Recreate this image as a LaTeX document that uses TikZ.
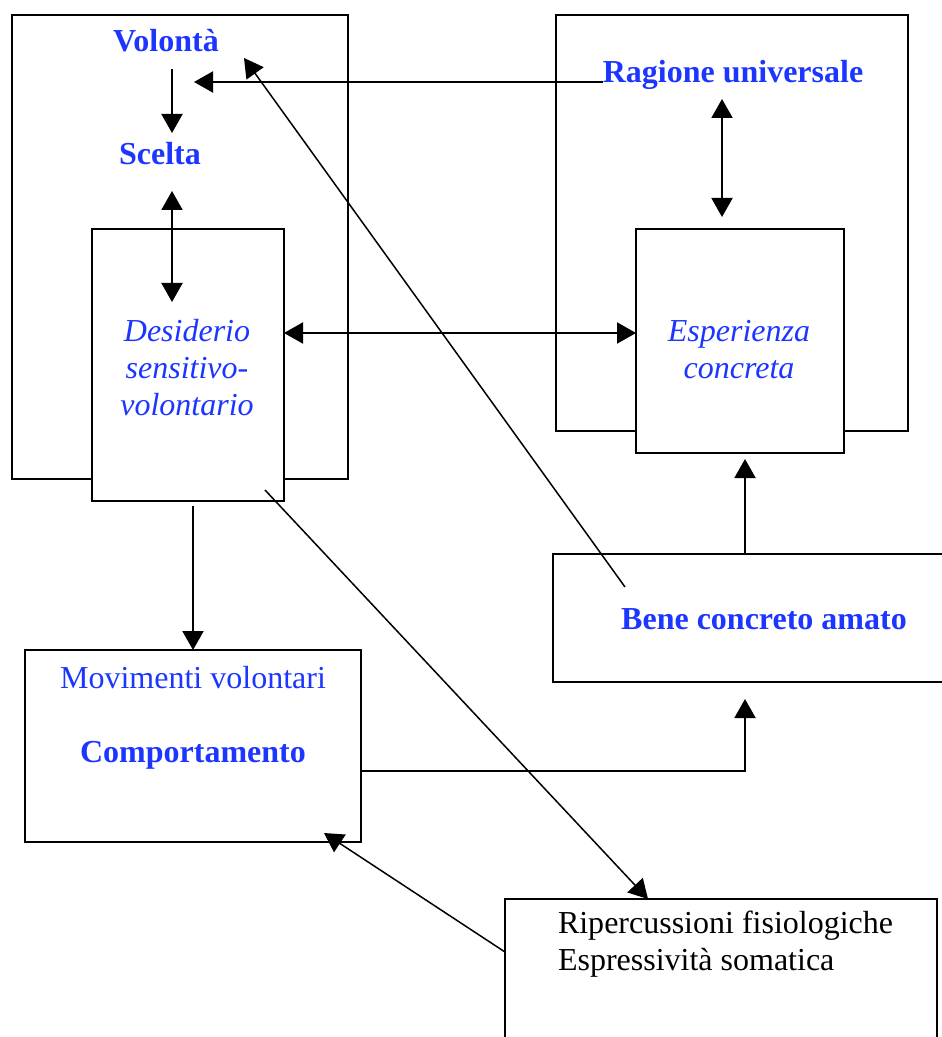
\documentclass[tikz,border=0pt]{standalone}
\usepackage{fontspec}
\setmainfont{Liberation Serif}
\usetikzlibrary{arrows.meta,calc,fit}
\definecolor{ink}{RGB}{28,54,255}
\begin{document}
\begin{tikzpicture}[x=0.5pt,y=-0.5pt,
  every node/.style={outer sep=0pt},
  box/.style={draw, line width=1pt, inner sep=0pt},
  innerbox/.style={box, fill=white},
  lbl/.style={inner sep=0pt, anchor=base, font=\fontsize{16}{18}\selectfont},
  lblleft/.style={lbl, anchor=base west},
  bl/.style={lbl, text=ink, font=\fontsize{16}{18}\selectfont\bfseries},
  blu/.style={lbl, text=ink},
  it/.style={lbl, text=ink, font=\fontsize{16}{18}\selectfont\itshape},
  arr/.style={line width=1pt, -{Triangle[length=9.5pt,width=10.5pt]}},
  darr/.style={line width=1pt, {Triangle[length=9.5pt,width=10.5pt]}-{Triangle[length=9.5pt,width=10.5pt]}},
  slant/.style={line width=0.75pt, -{Triangle[length=9.5pt,width=10.5pt]}}
]
\useasboundingbox (0,0) rectangle (941,1037);

% outer frames
\node[box, fit={(12,15) (348,479)}] (volbox) {};
\node[box, fit={(556,15) (908,431)}] (ragbox) {};

% inner boxes
\node[innerbox, fit={(92,229) (284,501)}] (desbox) {};
\node[innerbox, fit={(636,229) (844,453)}] (espbox) {};
\node[box, fit={(553,554) (960,682)}] (bene) {};
\node[box, fit={(25,650) (361,842)}] (movbox) {};
\node[box, fit={(505,899) (937,1060)}] (ripbox) {};

% texts
\node[bl] (volonta) at (166,52) {Volontà};
\node[bl] (scelta) at (160,165) {Scelta};
\node[bl] (ragione) at (733,83) {Ragione universale};
\node[it] (des1) at (187,342) {Desiderio};
\node[it] (des2) at (187,378) {sensitivo-};
\node[it] (des3) at (187,415) {volontario};
\node[it] (esp1) at (739,342) {Esperienza};
\node[it] (esp2) at (739,378) {concreta};
\node[bl] (benetxt) at (764,629) {Bene concreto amato};
\node[blu] (mov) at (193,688) {Movimenti volontari};
\node[bl] (comp) at (193,762) {Comportamento};
\node[lblleft] (rip1) at (558,933) {Ripercussioni fisiologiche};
\node[lblleft] (rip2) at (558,970) {Espressività somatica};

% connectors
\draw[arr] ($(volonta.base)+(6,17)$) -- ($(scelta.base)+(12,-32)$);
\draw[darr] ($(scelta.base)+(12,26)$) -- ($(des1.base)+(-15,-40)$);
\draw[arr] ($(ragione.base west)+(0,-1)$) -- ($(volonta.base)+(28,30)$);
\draw[darr] ($(ragione.base)+(-11,16)$) -- ($(espbox.north west)+(86,-12)$);
\draw[darr] ($(desbox.north east)+(0,104)$) -- ($(espbox.north west)+(0,104)$);
\draw[arr] ($(bene.north west)+(192,0)$) -- ($(espbox.south west)+(109,6)$);
\draw[arr] ($(desbox.south)+(5,5)$) -- (movbox.north);
\draw[arr] ($(movbox.south east)+(0,-71)$) -| ($(bene.south west)+(192,17)$);
\draw[slant] ($(bene.north west)+(72,33)$) -- ($(volonta.base)+(78,6)$);
\draw[slant] ($(desbox.south east)+(-19,-11)$) -- ($(ripbox.north west)+(143,0)$);
\draw[slant] ($(ripbox.north west)+(0,53)$) -- ($(movbox.south east)+(-37,-9)$);
\end{tikzpicture}
\end{document}
